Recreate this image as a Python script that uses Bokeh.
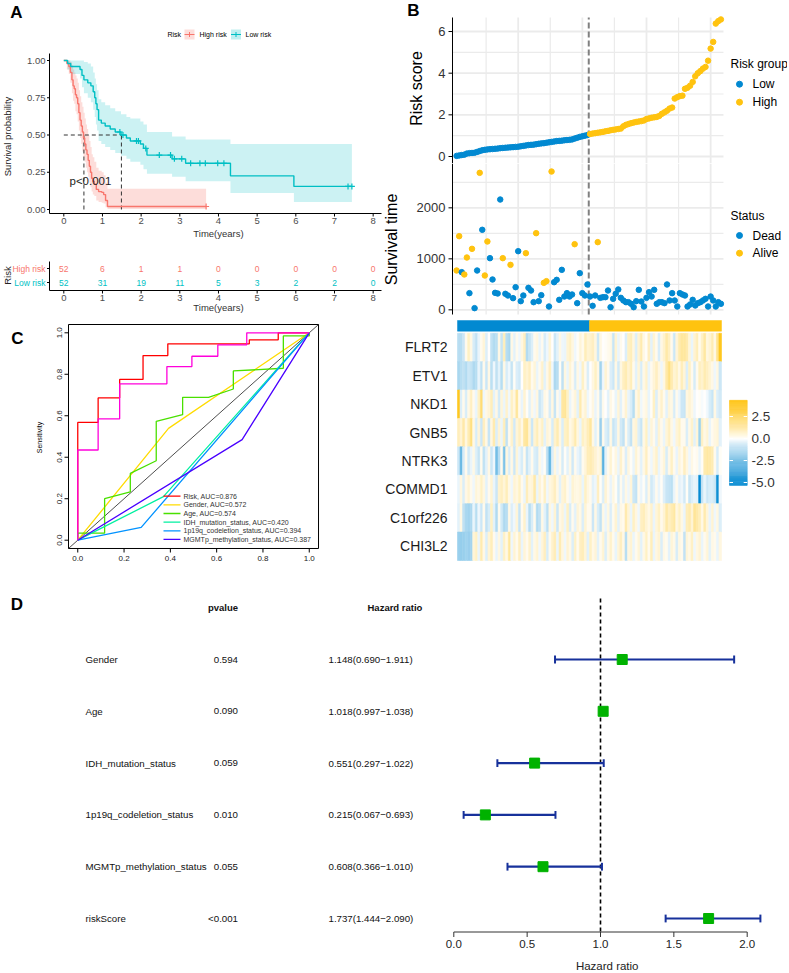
import math
from bokeh.plotting import figure
from bokeh.layouts import row, column
from bokeh.models import Range1d, LinearColorMapper, ColumnDataSource
from bokeh.core.properties import value
from bokeh.embed import file_html
from bokeh.resources import INLINE

FONT = "Liberation Sans"

# ======================= DATA =======================
# ---- Panel A: Kaplan-Meier (step points) ----
km_high_t = [0.0, 0.08, 0.13, 0.17, 0.21, 0.24, 0.27, 0.30, 0.33, 0.36, 0.39, 0.42, 0.45, 0.48, 0.51,
             0.54, 0.57, 0.60, 0.63, 0.66, 0.69, 0.72, 0.75, 0.79, 0.84, 0.90, 0.98, 1.03, 1.08, 1.13, 3.68]
km_high_s = [1.0, 0.98, 0.96, 0.92, 0.87, 0.83, 0.81, 0.77, 0.75, 0.71, 0.65, 0.60, 0.56, 0.52, 0.48,
             0.44, 0.40, 0.37, 0.33, 0.29, 0.25, 0.21, 0.19, 0.17, 0.135, 0.12, 0.115, 0.10, 0.06, 0.02, 0.02]
km_high_up = [1.0, 1.0, 1.0, 0.99, 0.97, 0.94, 0.92, 0.90, 0.88, 0.85, 0.80, 0.76, 0.72, 0.69, 0.65,
              0.61, 0.57, 0.54, 0.50, 0.46, 0.42, 0.37, 0.35, 0.32, 0.28, 0.26, 0.25, 0.23, 0.18, 0.14, 0.14]
km_high_lo = [1.0, 0.94, 0.91, 0.85, 0.78, 0.73, 0.71, 0.66, 0.64, 0.59, 0.53, 0.48, 0.44, 0.39, 0.35,
              0.32, 0.28, 0.25, 0.22, 0.18, 0.15, 0.12, 0.10, 0.09, 0.06, 0.05, 0.045, 0.04, 0.015, 0.003, 0.003]
km_low_t = [0.0, 0.10, 0.18, 0.42, 0.47, 0.52, 0.62, 0.70, 0.76, 0.80, 0.83, 0.86, 0.90, 0.97, 1.07,
            1.20, 1.33, 1.48, 1.62, 1.72, 1.98, 2.06, 2.15, 2.80, 3.15, 4.31, 5.95, 7.45]
km_low_s = [1.0, 0.98, 0.96, 0.94, 0.90, 0.87, 0.85, 0.83, 0.79, 0.75, 0.71, 0.67, 0.60, 0.58, 0.56,
            0.54, 0.52, 0.50, 0.48, 0.46, 0.44, 0.41, 0.365, 0.34, 0.31, 0.226, 0.155, 0.155]
km_low_up = [1.0, 1.0, 1.0, 1.0, 1.0, 0.99, 0.98, 0.96, 0.92, 0.88, 0.84, 0.80, 0.74, 0.72, 0.70,
             0.68, 0.66, 0.64, 0.62, 0.61, 0.59, 0.57, 0.52, 0.49, 0.47, 0.44, 0.44, 0.44]
km_low_lo = [1.0, 0.94, 0.91, 0.88, 0.82, 0.78, 0.75, 0.72, 0.67, 0.62, 0.57, 0.53, 0.46, 0.44, 0.42,
             0.40, 0.38, 0.36, 0.34, 0.32, 0.30, 0.27, 0.24, 0.22, 0.19, 0.11, 0.05, 0.05]
cens_high_t = [3.68]
cens_high_s = [0.02]
cens_low_t = [1.45, 1.53, 1.88, 1.93, 2.12, 2.47, 2.76, 2.86, 3.05, 3.28, 3.52, 3.66, 3.98, 4.14, 7.35, 7.45]
cens_low_s = [0.52, 0.50, 0.46, 0.46, 0.41, 0.365, 0.365, 0.34, 0.34, 0.31, 0.31, 0.31, 0.31, 0.31, 0.155, 0.155]
median_high = 0.52
median_low = 1.49
risk_years = [0, 1, 2, 3, 4, 5, 6, 7, 8]
surv_prob_ticks = [0.0, 0.25, 0.50, 0.75, 1.00]
at_risk_high = [52, 6, 1, 1, 0, 0, 0, 0, 0]
at_risk_low = [52, 31, 19, 11, 5, 3, 2, 2, 0]

# ---- Panel B: risk score, survival, heatmap ----
risk_low = [0.03, 0.05, 0.07, 0.09, 0.14, 0.16, 0.17, 0.18, 0.22, 0.26, 0.30, 0.32, 0.34, 0.35, 0.36, 0.37,
            0.38, 0.40, 0.41, 0.42, 0.43, 0.44, 0.45, 0.46, 0.47, 0.49, 0.51, 0.53, 0.55, 0.56, 0.57, 0.59,
            0.61, 0.63, 0.64, 0.66, 0.68, 0.70, 0.72, 0.74, 0.75, 0.76, 0.78, 0.79, 0.80, 0.82, 0.86, 0.90,
            0.94, 0.97, 1.00, 1.03]
risk_high = [1.08, 1.10, 1.12, 1.14, 1.16, 1.18, 1.21, 1.23, 1.26, 1.28, 1.30, 1.32, 1.34, 1.45, 1.52, 1.56,
             1.60, 1.63, 1.66, 1.68, 1.70, 1.73, 1.80, 1.83, 1.86, 1.88, 1.90, 1.95, 2.05, 2.12, 2.20, 2.30,
             2.35, 2.78, 2.85, 2.90, 2.92, 3.25, 3.30, 3.40, 3.58, 3.85, 4.00, 4.10, 4.22, 4.30, 4.60, 5.18,
             5.50, 6.38, 6.50, 6.58]
surv_days = [771, 1444, 739, 693, 1026, 327, 1196, 33, 771, 2686, 1569, 673, 1340, 1013, 595, 333, 320, 2163,
             1013, 314, 281, 882, 229, 444, 1150, 170, 281, 1111, 431, 379, 150, 1503, 170, 288, 529, 562,
             65, 2712, 542, 588, 196, 784, 261, 327, 261, 300, 1287, 131, 719, 327, 281, 497,
             261, 78, 281, 1327, 235, 248, 248, 379, 52, 216, 314, 399, 235, 183, 150, 150, 118, 52, 170,
             392, 163, 65, 235, 346, 261, 392, 118, 150, 150, 131, 497, 183, 327, 183, 65, 327, 301, 281,
             65, 105, 196, 85, 131, 150, 183, 216, 65, 261, 183, 65, 150, 118]
surv_alive = [1, 1, 0, 1, 1, 0, 1, 0, 0, 1, 0, 1, 1, 0, 0, 0, 0, 0, 1, 0, 0, 1, 0, 0, 0, 0, 0, 1, 0, 0,
              0, 1, 0, 0, 1, 1, 0, 1, 0, 0, 0, 0, 0, 0, 0, 0, 1, 0, 0, 0, 0, 0,
              0, 0, 0, 1, 0, 0, 0, 0, 0, 0, 0, 0, 0, 0, 0, 0, 0, 0, 0, 0, 0, 0, 0, 0, 0, 0, 0, 0,
              0, 0, 0, 0, 0, 0, 0, 0, 0, 0, 0, 0, 0, 0, 0, 0, 0, 0, 0, 0, 0, 0, 0, 0]
risk_ticks = [0, 2, 4, 6]
risk_minor = [1, 3, 5]
surv_ticks = [0, 1000, 2000]
surv_minor = [500, 1500, 2500]
sample_major = [25, 50, 75, 100]
sample_minor = [12.5, 37.5, 62.5, 87.5]

genes = ["FLRT2", "ETV1", "NKD1", "GNB5", "NTRK3", "COMMD1", "C1orf226", "CHI3L2"]
expr_FLRT2 = [-1.2, -1.2, -0.8, 0.2, 0.8, 0.3, -0.6, -1.0, -0.3, 0.2, 0.5, -0.5, 0.0, -1.0, -1.3, -1.1, 0.3, -0.9, 1.0, -1.2,
              -1.5, 0.3, -0.4, 0.2, -0.2, 0.4, 0.9, -1.3, -0.9, -0.5, 0.2, 0.4, -0.3, 0.2, -0.6, -0.2, 0.5, 0.0, -0.8, -0.4,
              0.3, -0.2, -0.3, 0.6, 0.8, 0.4, -0.2, 0.1, 0.5, 0.2, 1.0, 0.6,
              0.7, 0.9, 0.4, -0.8, 0.3, 0.0, 0.1, 0.2, 0.3, -0.9, 0.6, -0.3, 0.2, 0.0, -0.5, 0.8, 1.0, 0.4, -0.5, 0.6,
              1.2, 0.3, 0.1, 0.9, -0.4, 0.6, 0.2, -0.6, 0.3, 0.7, 1.3, 0.9, 0.2, -0.8, 0.5, 1.2, 1.5, 1.5, 1.2, 0.5,
              -0.3, 0.6, 1.0, 0.2, 0.8, 1.4, 0.4, 0.6, 1.1, 0.3, 1.8, 4.0]
expr_ETV1 = [-1.5, -1.2, -1.0, -1.3, -0.8, -1.0, -1.4, -1.2, -0.3, -1.0, 0.2, -0.8, 0.3, -1.1, -0.2, -1.0, -0.4, -1.2, 0.3, -0.6,
             -0.2, -0.9, 0.1, -0.5, -0.7, 0.0, 0.8, 0.6, 0.9, 0.2, 0.5, -0.3, 0.2, 0.7, -0.4, 0.3, 0.9, -0.2, -1.4, -1.2,
             0.1, -1.0, 0.4, -0.3, 0.6, 0.2, -0.6, 0.3, -0.2, 0.8, 0.2, -0.5,
             0.0, 0.4, 0.8, 0.3, -1.6, -0.2, 0.6, 0.2, -0.5, -0.8, 0.3, -0.7, 0.4, 0.9, 1.1, 0.6, 1.0, 0.2, -0.4, 0.5,
             -0.6, 0.3, 0.7, -0.3, 0.2, 0.5, 0.9, 0.4, -0.2, 0.4, 1.3, 2.0, 1.2, 0.6, 0.8, 0.3, 1.0, 0.5, -0.5, 0.8,
             0.2, -0.6, 0.2, 0.9, 0.7, 1.1, 0.9, 0.6, 0.3, -0.2, 0.4, -0.8]
expr_NKD1 = [4.0, -0.5, 0.2, -0.6, 0.3, 0.9, 0.2, -0.3, 0.8, 2.3, -0.2, 0.3, 0.5, 1.0, -0.4, 0.3, -0.7, 0.5, -0.3, 0.7,
             -0.2, 0.8, 0.4, 1.5, 0.2, -0.3, 0.6, 0.1, -0.4, 0.3, -0.2, 0.4, -0.8, -0.5, 0.3, 0.2, -0.6, 0.4, -0.9, 0.2,
             -0.3, 1.4, 1.6, 0.8, -0.3, 0.2, 0.5, -0.4, 1.2, 0.3, 0.6, -0.2,
             0.1, 0.4, -0.3, 0.2, -0.8, 0.2, 0.0, -0.4, 0.3, 0.1, -0.3, 0.5, -0.4, 0.2, 0.6, -0.3, -0.6, -1.2, 0.3, 0.7,
             -0.2, 0.2, 0.4, -0.3, 0.1, 0.8, -0.5, 0.3, 0.7, 0.2, -0.4, 0.5, 0.3, -0.6, 0.2, -0.3, -0.8, -0.9, 0.4, 0.6,
             0.3, -0.2, 0.0, 0.1, -0.1, 0.0, -0.2, -0.6, -0.9, 0.3, -0.5, -0.7]
expr_GNB5 = [1.0, 0.6, 1.3, 0.4, 1.1, 2.0, 0.3, -0.6, 0.5, -0.8, 0.9, 0.3, -0.9, 0.4, 1.2, -0.5, 0.6, -0.3, 1.0, -1.0,
             0.2, 0.7, -0.7, 0.5, 0.9, 0.3, 1.4, 1.6, 0.5, -0.8, 0.6, 1.0, 0.4, 0.8, -0.4, 0.5, 0.3, -0.6, 0.7, 1.1,
             0.4, -0.5, 0.8, 1.0, 0.3, 0.6, 1.2, 0.4, -0.3, 0.8, 0.6, 1.0,
             1.5, 0.3, -0.4, 0.2, -1.8, 0.2, -0.5, -0.8, 0.3, -0.9, -0.6, 0.4, -0.7, -1.0, 0.2, -0.5, -1.0, 0.4, 0.6, -0.5,
             -0.9, 0.3, 0.8, -0.3, 0.5, 0.2, -0.4, 0.6, 0.2, -0.3, 0.5, 0.9, 0.3, -0.2, 0.5, 0.8, 0.2, 0.2, -0.5, 0.3,
             0.7, -0.4, 0.5, -1.7, 0.8, 0.3, 0.6, -0.3, 0.2, 0.4, 0.5, -0.4]
expr_NTRK3 = [-0.8, -2.8, -0.6, 0.2, -0.7, -0.3, 0.3, -0.5, -0.9, 0.2, -1.0, -0.4, 0.3, -0.8, -0.2, -2.6, -1.2, 0.2, -2.4, 0.4,
              -0.6, 0.3, -0.8, 0.5, -0.3, -0.6, 0.2, -0.9, -0.4, 0.2, -0.5, -0.7, 0.3, -0.2, 0.1, -1.2, -2.9, -0.5, 0.4, -0.3,
              0.2, -0.6, 0.1, -0.4, 0.3, -0.7, 0.2, -0.3, -0.6, 0.2, 0.5, 1.0,
              1.1, 0.9, 0.6, 0.3, 0.5, -3.2, -0.4, 0.2, 0.6, 0.1, 0.4, -0.3, 0.7, 0.2, -0.5, 0.4, 0.1, -0.3, 0.6, 0.2,
              -0.4, 0.3, 0.9, 0.2, -0.2, 0.4, 0.7, -0.3, 0.2, 0.5, -0.6, 0.3, 0.8, 0.2, -0.3, 0.5, 0.2, 0.9, 0.4, -0.2,
              0.3, 0.1, 0.2, -0.3, 0.1, 1.2, 1.4, 1.3, 1.1, 0.2, -0.6, 0.1]
expr_COMMD1 = [-0.3, 0.4, -0.5, 0.3, 0.6, 0.2, -0.2, 0.5, 0.3, 0.8, 0.4, -0.4, 0.2, 0.6, -0.3, -0.8, 0.7, 0.9, 0.5, 1.0,
               0.3, -0.2, 0.6, 0.4, 0.8, 0.2, -0.3, 1.0, 0.4, 0.5, 1.3, -0.3, 0.6, 0.2, 0.8, -0.2, 0.4, 0.6, 0.9, 0.3,
               -0.4, 0.5, 0.7, 0.2, -0.2, 0.6, 0.4, 0.3, 0.5, -0.3, 0.8, 0.4,
               0.2, -0.4, -0.2, 0.9, 0.1, -0.5, 0.6, 0.2, -0.3, 0.4, 0.1, -0.6, 0.2, -0.4, 0.3, -0.2, 0.5, -0.8, -1.0, 0.2,
               -0.3, 0.1, -0.5, 0.3, -0.7, -0.4, 0.2, -0.3, 0.1, -0.5, -0.9, -1.0, -1.1, -0.3, 0.2, -0.4, -0.2, -0.7, 0.1, -0.9,
               -0.5, -0.3, -0.4, -5.2, -0.9, -0.3, -0.8, -0.6, -0.6, -0.8, -5.0, -0.2]
expr_C1orf226 = [-0.4, 0.3, -1.0, -1.5, -1.6, -1.4, -0.3, -1.2, -0.2, -0.8, 0.2, -1.0, -0.6, 0.8, -0.4, -1.3, 0.2, -0.7, -1.4, -1.2,
                 0.3, -0.5, -0.2, 0.5, -0.9, 0.2, 0.7, -0.3, -1.2, -0.6, 0.2, -1.3, -1.0, 0.3, -0.4, -1.1, 0.4, -0.2, 0.6, -0.8,
                 0.3, 0.5, -0.3, 0.8, -0.6, 0.2, -0.4, 0.5, 0.3, -0.5, 0.6, 0.2,
                 0.2, -0.8, 0.3, -0.6, -1.0, 0.3, -0.3, 0.4, -0.5, 0.2, 0.6, -0.4, 0.3, 0.2, 1.2, 0.5, -0.3, 0.8, 0.4, -0.2,
                 0.9, 1.0, 0.6, 0.3, 0.7, -0.3, 0.5, 0.8, 0.2, 0.6, 1.3, 0.9, 1.1, 1.4, 0.4, 0.8, 0.3, -0.3, 1.0, 1.2,
                 0.6, 1.6, 1.3, 1.0, 0.3, 1.2, 0.5, -0.3, 0.6, -0.2, 0.4, -0.5]
expr_CHI3L2 = [-1.8, -1.9, -1.8, -1.7, -1.8, -1.6, 0.5, 0.8, -0.3, 1.2, 0.3, -0.5, 0.6, 1.0, 0.2, -0.3, 0.4, -0.4, 0.8, 0.3,
               1.5, -0.2, 0.6, 0.2, 0.9, -0.3, 0.5, 0.2, 0.7, -0.4, 0.3, 0.6, -0.2, 0.5, 0.9, -0.6, 0.2, 0.7, 1.0, -0.3,
               1.1, 0.4, -0.2, 0.6, 0.3, -0.5, 0.8, 0.2, 0.9, 1.0, 0.5, -0.4,
               0.8, 0.3, 0.5, -0.4, 0.2, 0.6, -0.5, 0.3, 0.7, 0.2, -0.3, 0.5, 0.9, 0.3, -1.2, 0.4, 0.6, -0.3, 0.2, 0.5,
               -0.4, 0.3, 0.8, 0.2, 1.0, -0.3, 0.4, 0.6, -0.5, 0.3, 0.2, -0.4, 0.5, 0.3, -0.6, 0.4, 0.2, -1.0, 0.5, 0.3,
               0.8, -0.2, 0.4, 0.6, -0.3, 0.2, 0.5, -0.4, 0.3, 0.2, -0.3, 0.4]
expr_rows = [expr_FLRT2, expr_ETV1, expr_NKD1, expr_GNB5, expr_NTRK3, expr_COMMD1, expr_C1orf226, expr_CHI3L2]
heat_low, heat_high = -5.33, 4.34
colorbar_ticks = [2.5, 0.0, -2.5, -5.0]

# ---- Panel C: ROC curves ----
roc_names = ["Risk", "Gender", "Age", "IDH_mutation_status", "1p19q_codeletion_status", "MGMTp_methylation_status"]
roc_auc = [0.876, 0.572, 0.574, 0.420, 0.394, 0.387]
roc_risk_x = [0, 0, 0.088, 0.088, 0.181, 0.181, 0.282, 0.282, 0.389, 0.389, 0.741, 0.741, 0.866, 0.866, 1.0]
roc_risk_y = [0, 0.568, 0.568, 0.686, 0.686, 0.775, 0.775, 0.890, 0.890, 0.947, 0.947, 0.966, 0.966, 1.0, 1.0]
roc_gender_x = [0, 0.392, 1.0]
roc_gender_y = [0, 0.539, 1.0]
roc_age_x = [0, 0, 0.116, 0.116, 0.227, 0.227, 0.339, 0.339, 0.453, 0.453, 0.565, 0.672, 0.672, 0.888, 0.888, 1.0, 1.0]
roc_age_y = [0, 0.034, 0.034, 0.200, 0.233, 0.322, 0.383, 0.573, 0.605, 0.689, 0.689, 0.729, 0.816, 0.829, 0.985, 0.985, 1.0]
roc_idh_x = [0, 0.37, 1.0]
roc_idh_y = [0, 0.21, 1.0]
roc_codel_x = [0, 0.274, 1.0]
roc_codel_y = [0, 0.062, 1.0]
roc_mgmt_x = [0, 0.71, 1.0]
roc_mgmt_y = [0, 0.485, 1.0]
roc_extra_x = [0, 0, 0.088, 0.088, 0.181, 0.181, 0.385, 0.385, 0.493, 0.493, 0.605, 0.605, 0.730, 0.730, 1.0]
roc_extra_y = [0, 0.435, 0.435, 0.585, 0.585, 0.754, 0.754, 0.837, 0.837, 0.887, 0.887, 0.942, 0.942, 1.0, 1.0]
roc_ticks = [0.0, 0.2, 0.4, 0.6, 0.8, 1.0]

# ---- Panel D: multivariate Cox forest ----
cox_vars = ["Gender", "Age", "IDH_mutation_status", "1p19q_codeletion_status", "MGMTp_methylation_status", "riskScore"]
cox_p = ["0.594", "0.090", "0.059", "0.010", "0.055", "<0.001"]
cox_hr = [1.148, 1.018, 0.551, 0.215, 0.608, 1.737]
cox_lo = [0.690, 0.997, 0.297, 0.067, 0.366, 1.444]
cox_hi = [1.911, 1.038, 1.022, 0.693, 1.010, 2.090]
hr_ticks = [0.0, 0.5, 1.0, 1.5, 2.0]

# ======================= STYLE / HELPERS =======================
HIGH_C = "#F8766D"
LOW_C = "#00BFC4"
BLUE = "#0289D1"
YELLOW = "#FFC30F"
ROC_COLORS = ["#FF0000", "#FFDB00", "#49E000", "#00F0A0", "#0092FF", "#4900FF"]
EXTRA_C = "#FF00DB"
EB_C = "#17319B"
SQ_C = "#00B200"
GRID_C = "#EBEBEB"


class Frame:
    """Figure box (page px) plus a linear data<->pixel mapping: (px of value 0, px per unit)."""
    def __init__(self, box, xa, ya):
        self.X0, self.Y0, self.W, self.H = box
        self.xa, self.ya = xa, ya

    def x(self, px):
        return (px - self.xa[0]) / self.xa[1]

    def y(self, py):
        return (self.ya[0] - py) / self.ya[1]

    def w(self, d):
        return d / self.xa[1]

    def h(self, d):
        return d / self.ya[1]


def make(fr):
    p = figure(width=fr.W, height=fr.H,
               x_range=Range1d(fr.x(fr.X0), fr.x(fr.X0 + fr.W)),
               y_range=Range1d(fr.y(fr.Y0 + fr.H), fr.y(fr.Y0)),
               x_axis_location=None, y_axis_location=None,
               output_backend="svg", toolbar_location=None,
               min_border_left=0, min_border_right=0, min_border_top=0, min_border_bottom=0)
    p.outline_line_color = None
    p.background_fill_color = "white"
    p.border_fill_color = "white"
    p.grid.visible = False
    return p


def txt(p, x, y, text, size, color="black", align="left", baseline="middle", angle=0.0, bold=False):
    if not isinstance(x, list):
        x, y, text = [x], [y], [text]
    p.text(x=x, y=y, text=text, text_font=value(FONT), text_font_size=f"{size}px",
           text_color=color, text_align=align, text_baseline=baseline, angle=angle,
           text_font_style="bold" if bold else "normal")


def vaxis(p, fr, xpx, y0, y1, ticks, labels, size, color="#4D4D4D", tick=3, gap=2, lc="black", lw=1,
          line=True, rotate=False):
    xl = fr.x(xpx)
    n = len(ticks)
    if line:
        p.segment(x0=[xl], y0=[y0], x1=[xl], y1=[y1], line_color=lc, line_width=lw)
    p.segment(x0=[fr.x(xpx - tick)] * n, y0=ticks, x1=[xl] * n, y1=ticks, line_color=lc, line_width=lw)
    if rotate:
        txt(p, [fr.x(xpx - tick - gap)] * n, list(ticks), labels, size, color, align="center",
            baseline="bottom", angle=math.pi / 2)
    else:
        txt(p, [fr.x(xpx - tick - gap)] * n, list(ticks), labels, size, color, align="right")


def haxis(p, fr, ypx, x0, x1, ticks, labels, size, color="#4D4D4D", tick=3, gap=2, lc="black", lw=1, line=True):
    yl = fr.y(ypx)
    n = len(ticks)
    if line:
        p.segment(x0=[x0], y0=[yl], x1=[x1], y1=[yl], line_color=lc, line_width=lw)
    p.segment(x0=ticks, y0=[yl] * n, x1=ticks, y1=[fr.y(ypx + tick)] * n, line_color=lc, line_width=lw)
    txt(p, list(ticks), [fr.y(ypx + tick + gap)] * n, labels, size, color, align="center", baseline="top")


def ggrid(p, x0, x1, y0, y1, xmaj, xmin, ymaj, ymin):
    for xs, lw in ((xmin, 1.2), (xmaj, 1.8)):
        p.segment(x0=xs, y0=[y0] * len(xs), x1=xs, y1=[y1] * len(xs), line_color=GRID_C, line_width=lw)
    for ys, lw in ((ymin, 1.2), (ymaj, 1.8)):
        p.segment(x0=[x0] * len(ys), y0=ys, x1=[x1] * len(ys), y1=ys, line_color=GRID_C, line_width=lw)


# ======================= PANEL A (KM) =======================
fA1 = Frame((0, 0, 382, 242), (63.3, 38.67), (209, 149))
pA1 = make(fA1)
ax_x0, ax_x1 = fA1.x(49), fA1.x(381)
ay_0, ay_1 = fA1.y(213), fA1.y(53)
pA1.varea_step(x=km_high_t, y1=km_high_lo, y2=km_high_up, step_mode="after",
               fill_color=HIGH_C, fill_alpha=0.25)
pA1.varea_step(x=km_low_t, y1=km_low_lo, y2=km_low_up, step_mode="after",
               fill_color=LOW_C, fill_alpha=0.2)
dash_kw = dict(line_dash="4 3", line_color="#333333", line_width=1)
pA1.line([0, median_low], [0.5, 0.5], **dash_kw)
pA1.line([median_high, median_high], [0, 0.5], **dash_kw)
pA1.line([median_low, median_low], [0, 0.5], **dash_kw)
pA1.step(km_high_t, km_high_s, mode="after", line_color=HIGH_C, line_width=1.4)
pA1.step(km_low_t, km_low_s, mode="after", line_color=LOW_C, line_width=1.4)
pA1.scatter(cens_high_t, cens_high_s, marker="cross", size=6, line_color=HIGH_C, line_width=1.2)
pA1.scatter(cens_low_t, cens_low_s, marker="cross", size=6, line_color=LOW_C, line_width=1.2)
haxis(pA1, fA1, 213, ax_x0, ax_x1, risk_years, [str(v) for v in risk_years], 9.5, tick=3, gap=1.5)
vaxis(pA1, fA1, 49, ay_0, ay_1, surv_prob_ticks, [f"{v:.2f}" for v in surv_prob_ticks], 9.5, tick=2.5, gap=1.5)
# legend
ly = fA1.y(34)
txt(pA1, fA1.x(167), ly, "Risk", 7)
for cx, tx, col, name in [(189, 199, HIGH_C, "High risk"), (235.5, 245, LOW_C, "Low risk")]:
    pA1.rect(x=[fA1.x(cx)], y=[ly], width=fA1.w(10), height=fA1.h(10),
             fill_color=col, fill_alpha=0.25, line_color=None)
    pA1.segment(x0=[fA1.x(cx - 5)], y0=[ly], x1=[fA1.x(cx + 5)], y1=[ly], line_color=col, line_width=1.2)
    pA1.scatter([fA1.x(cx)], [ly], marker="cross", size=5, line_color=col)
    txt(pA1, fA1.x(tx), ly, name, 7)
txt(pA1, fA1.x(16), fA1.y(12), "A", 17, align="center", bold=True)
txt(pA1, fA1.x(7), fA1.y(136), "Survival probability", 9.5, "#222222", align="center", angle=math.pi / 2)
txt(pA1, fA1.x(218), fA1.y(233), "Time(years)", 9.5, "#333333", align="center")
txt(pA1, fA1.x(69), fA1.y(180), "p<0.001", 11.5, color="#222222")

# risk table
fA2 = Frame((0, 242, 382, 76), (63.3, 38.67), (296, 14))
pA2 = make(fA2)
txt(pA2, list(risk_years), [2] * len(risk_years), [str(v) for v in at_risk_high], 8.5, HIGH_C, align="center")
txt(pA2, list(risk_years), [1] * len(risk_years), [str(v) for v in at_risk_low], 8.5, LOW_C, align="center")
haxis(pA2, fA2, 290, ax_x0, ax_x1, risk_years, [str(v) for v in risk_years], 9.5, tick=3, gap=1.5)
vaxis(pA2, fA2, 49, fA2.y(290), fA2.y(261), [1, 2], ["", ""], 8.5, tick=2.5, gap=1.5)
txt(pA2, fA2.x(45), 2, "High risk", 8.5, HIGH_C, align="right")
txt(pA2, fA2.x(45), 1, "Low risk", 8.5, LOW_C, align="right")
txt(pA2, fA2.x(7), fA2.y(275), "Risk", 9.5, "#222222", align="center", angle=math.pi / 2)
txt(pA2, fA2.x(218), fA2.y(307), "Time(years)", 9.5, "#333333", align="center")

# ======================= PANEL C (ROC) =======================
fC = Frame((0, 318, 382, 272), (77.26, 231.5), (539.7, 207.4))
pC = make(fC)
pC.line([-0.04, 1.04], [-0.04, 1.04], line_color="black", line_width=0.7)
roc_curves = [(roc_risk_x, roc_risk_y), (roc_gender_x, roc_gender_y), (roc_age_x, roc_age_y),
              (roc_idh_x, roc_idh_y), (roc_codel_x, roc_codel_y), (roc_mgmt_x, roc_mgmt_y)]
for (xs, ys), col in zip(roc_curves, ROC_COLORS):
    pC.line(xs, ys, line_color=col, line_width=1.3)
pC.line(roc_extra_x, roc_extra_y, line_color=EXTRA_C, line_width=1.3)
pC.quad(left=[-0.04], right=[1.04], bottom=[-0.04], top=[1.04], fill_color=None,
        line_color="black", line_width=1)
for i, (name, auc, col) in enumerate(zip(roc_names, roc_auc, ROC_COLORS)):
    yy = fC.y(495.7 + 8.65 * i)
    pC.segment(x0=[fC.x(163)], y0=[yy], x1=[fC.x(180)], y1=[yy], line_color=col, line_width=1.3)
    txt(pC, fC.x(183), yy, f"{name}, AUC={auc:.3f}", 7, "#333333")
roc_labels = [f"{v:.1f}" for v in roc_ticks]
haxis(pC, fC, 548, 0, 1, roc_ticks, roc_labels, 8, "#222222", tick=4, gap=3, line=False)
vaxis(pC, fC, 68, 0, 1, roc_ticks, roc_labels, 8, "#222222", tick=4, gap=3, line=False, rotate=True)
txt(pC, fC.x(17), fC.y(338), "C", 17, align="center", bold=True)
txt(pC, fC.x(39), fC.y(437), "Sensitivity", 7, align="center", angle=math.pi / 2)

# ======================= PANEL B =======================
n_low = len(risk_low)
n_all = n_low + len(risk_high)
idx = list(range(1, n_all + 1))
split_x = n_low + 0.5
bx0, bx1 = -0.6, 105.0

fB1 = Frame((382, 0, 405, 163), (453.54, 2.566), (156, 20.83))
pB1 = make(fB1)
b1y0, b1y1 = fB1.y(163), fB1.y(17)
ggrid(pB1, bx0, bx1, b1y0, b1y1, sample_major, sample_minor, risk_ticks, risk_minor)
pB1.segment(x0=[split_x], y0=[b1y0], x1=[split_x], y1=[b1y1], line_color="#808080",
            line_dash="6 3", line_width=2)
srcB1 = ColumnDataSource(dict(x=idx, y=risk_low + risk_high,
                              c=[BLUE] * n_low + [YELLOW] * len(risk_high)))
pB1.scatter("x", "y", source=srcB1, size=5.5, fill_color="c", line_color="c")
vaxis(pB1, fB1, 452, b1y0, b1y1, risk_ticks, [str(v) for v in risk_ticks], 13, "#333333", tick=4, gap=3)
txt(pB1, fB1.x(413), fB1.y(10), "B", 17, align="center", bold=True)
txt(pB1, fB1.x(416), fB1.y(88), "Risk score", 16, align="center", angle=math.pi / 2)
txt(pB1, fB1.x(730), fB1.y(63), "Risk group", 12)
pB1.scatter([fB1.x(739)] * 2, [fB1.y(83.7), fB1.y(101.7)], size=6, fill_color=[BLUE, YELLOW],
            line_color=[BLUE, YELLOW])
txt(pB1, [fB1.x(752)] * 2, [fB1.y(83.7), fB1.y(101.7)], ["Low", "High"], 12)

fB2 = Frame((382, 163, 405, 155), (453.54, 2.566), (309.33, 0.051))
pB2 = make(fB2)
b2y0, b2y1 = fB2.y(314), fB2.y(163)
ggrid(pB2, bx0, bx1, b2y0, b2y1, sample_major, sample_minor, surv_ticks, surv_minor)
pB2.segment(x0=[split_x], y0=[b2y0], x1=[split_x], y1=[b2y1], line_color="#808080",
            line_dash="6 3", line_width=2)
srcB2 = ColumnDataSource(dict(x=idx, y=surv_days, c=[YELLOW if a else BLUE for a in surv_alive]))
pB2.scatter("x", "y", source=srcB2, size=5.5, fill_color="c", line_color="c")
vaxis(pB2, fB2, 452, b2y0, b2y1, surv_ticks, [str(v) for v in surv_ticks], 13, "#333333", tick=4, gap=3)
txt(pB2, fB2.x(391), fB2.y(239), "Survival time", 16, align="center", angle=math.pi / 2)
txt(pB2, fB2.x(730), fB2.y(215), "Status", 12)
pB2.scatter([fB2.x(739)] * 2, [fB2.y(235), fB2.y(252.7)], size=6, fill_color=[BLUE, YELLOW],
            line_color=[BLUE, YELLOW])
txt(pB2, [fB2.x(752)] * 2, [fB2.y(235), fB2.y(252.7)], ["Dead", "Alive"], 12)

# heatmap
ncol = len(expr_FLRT2)
fB3 = Frame((382, 318, 405, 272), (457, (721 - 457) / ncol), (560, 28.41))
pB3 = make(fB3)


def lerp(c1, c2, t):
    t = t ** 0.85
    return "#%02x%02x%02x" % tuple(int(round(a + (b - a) * t)) for a, b in zip(c1, c2))


WHITE_RGB, BLUE_RGB, YEL_RGB = (255, 255, 255), (2, 137, 209), (255, 195, 15)
palette = []
for k in range(256):
    v = heat_low + (heat_high - heat_low) * k / 255
    palette.append(lerp(WHITE_RGB, BLUE_RGB, v / heat_low) if v < 0 else lerp(WHITE_RGB, YEL_RGB, v / heat_high))
mapper = LinearColorMapper(palette=palette, low=heat_low, high=heat_high)

hx, hy, hv = [], [], []
for r, vals in enumerate(expr_rows):
    for j, v in enumerate(vals):
        hx.append(j + 0.5)
        hy.append(len(genes) - 0.5 - r)
        hv.append(v)
pB3.rect(x="x", y="y", width=1, height=1, source=ColumnDataSource(dict(x=hx, y=hy, v=hv)),
         fill_color={"field": "v", "transform": mapper},
         line_color={"field": "v", "transform": mapper}, line_width=0.6)
bar_b, bar_t = fB3.y(330.7), fB3.y(320)
pB3.quad(left=[0, n_low], right=[n_low, ncol], bottom=[bar_b, bar_b], top=[bar_t, bar_t],
         fill_color=[BLUE, YELLOW], line_color=[BLUE, YELLOW], line_width=0.5)
txt(pB3, [fB3.x(447)] * len(genes), [len(genes) - 0.5 - r for r in range(len(genes))], genes, 14,
    "#1A1A1A", align="right")
# colour bar
cb_y0 = fB3.y(438)
cb_k = (fB3.y(416) - fB3.y(438)) / 2.5
n_cb = 80
cb_vals = [heat_low + (heat_high - heat_low) * (k + 0.5) / n_cb for k in range(n_cb)]
cb_bot = [cb_y0 + (heat_low + (heat_high - heat_low) * k / n_cb) * cb_k for k in range(n_cb)]
cb_top = [cb_y0 + (heat_low + (heat_high - heat_low) * (k + 1) / n_cb) * cb_k for k in range(n_cb)]
cbx0, cbx1 = fB3.x(729), fB3.x(746.7)
pB3.quad(left=cbx0, right=cbx1, bottom="b", top="t",
         source=ColumnDataSource(dict(b=cb_bot, t=cb_top, v=cb_vals)),
         fill_color={"field": "v", "transform": mapper},
         line_color={"field": "v", "transform": mapper}, line_width=0.5)
for t in colorbar_ticks:
    yy = cb_y0 + t * cb_k
    pB3.segment(x0=[cbx0, cbx1 - fB3.w(3.5)], y0=[yy, yy], x1=[cbx0 + fB3.w(3.5), cbx1], y1=[yy, yy],
                line_color="white", line_width=1)
    txt(pB3, fB3.x(751), yy, f"{t:.1f}", 13.5, "#333333")

# ======================= PANEL D (forest) =======================
fD = Frame((0, 590, 787, 381), (453.3, 146.7), (969.8, 51.8))
pD = make(fD)
rows_y = [len(cox_vars) - i for i in range(len(cox_vars))]
pD.segment(x0=[1.0], y0=[fD.y(598)], x1=[1.0], y1=[fD.y(931)], line_color="black",
           line_dash="4 3", line_width=1.6)
pD.segment(x0=cox_lo, y0=rows_y, x1=cox_hi, y1=rows_y, line_color=EB_C, line_width=2.2)
cap = fD.h(3.9)
pD.segment(x0=cox_lo, y0=[y - cap for y in rows_y], x1=cox_lo, y1=[y + cap for y in rows_y],
           line_color=EB_C, line_width=2)
pD.segment(x0=cox_hi, y0=[y - cap for y in rows_y], x1=cox_hi, y1=[y + cap for y in rows_y],
           line_color=EB_C, line_width=2)
pD.scatter(cox_hr, rows_y, marker="square", size=10, fill_color=SQ_C, line_color=SQ_C)
nv = len(cox_vars)
txt(pD, [fD.x(85)] * nv, rows_y, cox_vars, 9.7, "#111111")
txt(pD, [fD.x(237.5)] * nv, rows_y, cox_p, 9.7, "#111111", align="right")
hr_txt = [f"{h:.3f}({a:.3f}\u2212{b:.3f})" for h, a, b in zip(cox_hr, cox_lo, cox_hi)]
txt(pD, [fD.x(328)] * nv, rows_y, hr_txt, 9.7, "#111111")
txt(pD, fD.x(237.5), fD.y(607), "pvalue", 9.5, "#111111", align="right", bold=True)
txt(pD, fD.x(367), fD.y(607), "Hazard ratio", 9.5, "#111111", bold=True)
haxis(pD, fD, 931.5, 0, 2, hr_ticks, [f"{v:.1f}" for v in hr_ticks], 11.5, "#222222", tick=5, gap=3, lc="#333333")
txt(pD, fD.x(16.5), fD.y(604), "D", 17, align="center", bold=True)
txt(pD, fD.x(606.7), fD.y(965), "Hazard ratio", 11.5, "#222222", align="center")

# ======================= LAYOUT =======================
layout = column(row(column(pA1, pA2, pC), column(pB1, pB2, pB3)), pD)
open("out.html", "w").write(file_html(layout, INLINE))
